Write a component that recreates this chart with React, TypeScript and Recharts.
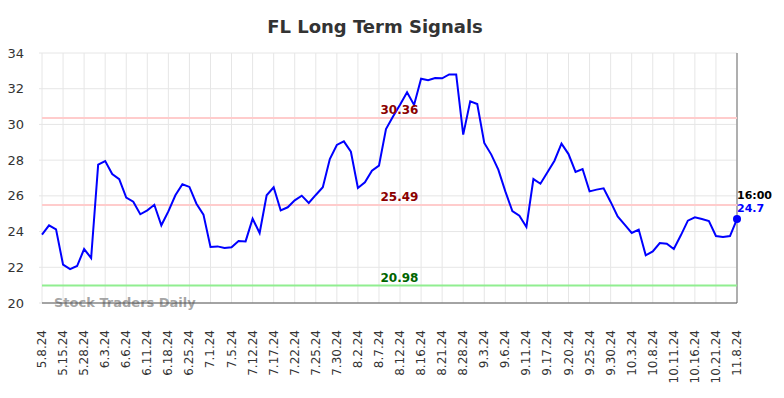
import React from 'react';
import {
  LineChart,
  Line,
  XAxis,
  YAxis,
  CartesianGrid,
  ReferenceLine,
  Customized,
} from 'recharts';

// tick labels, one every 3 data points
const tickLabels = [
  '5.8.24', '5.15.24', '5.28.24', '6.3.24', '6.6.24', '6.11.24', '6.18.24', '6.25.24',
  '7.1.24', '7.5.24', '7.12.24', '7.17.24', '7.22.24', '7.25.24', '7.30.24', '8.2.24',
  '8.7.24', '8.12.24', '8.16.24', '8.21.24', '8.28.24', '9.3.24', '9.6.24', '9.11.24',
  '9.17.24', '9.20.24', '9.25.24', '9.30.24', '10.3.24', '10.8.24', '10.11.24', '10.16.24',
  '10.21.24', '11.8.24',
];

// closing prices
const prices = [
  23.83, 24.35, 24.12, 22.15, 21.9, 22.07, 23.02, 22.52, 27.75, 27.95,
  27.22, 26.94, 25.9, 25.67, 24.97, 25.19, 25.5, 24.35, 25.13, 26.03,
  26.65, 26.5, 25.56, 24.95, 23.14, 23.17, 23.08, 23.12, 23.47, 23.45,
  24.72, 23.92, 26.03, 26.48, 25.19, 25.36, 25.75, 26.01, 25.6, 26.05,
  26.48, 28.06, 28.85, 29.05, 28.47, 26.44, 26.76, 27.41, 27.69, 29.74,
  30.45, 31.1, 31.8, 31.09, 32.56, 32.47, 32.6, 32.58, 32.8, 32.8,
  29.43, 31.29, 31.14, 28.96, 28.31, 27.47, 26.25, 25.15, 24.89, 24.26,
  26.94, 26.68, 27.32, 27.97, 28.92, 28.34, 27.34, 27.5, 26.25, 26.35,
  26.42, 25.66, 24.85, 24.39, 23.92, 24.11, 22.67, 22.89, 23.36, 23.32,
  23.02, 23.79, 24.61, 24.8, 24.7, 24.59, 23.75, 23.7, 23.75, 24.7,
];

const resistanceHigh = 30.36;
const resistanceLow = 25.49;
const support = 20.98;
const lastTime = '16:00';

const yTicks = [20, 22, 24, 26, 28, 30, 32, 34];
const tickIdx = tickLabels.map((_, k) => k * 3);

const data = prices.map((p, i) => ({ i, price: p }));

const FONT = '"DejaVu Sans", sans-serif';

const XTick = (props: any) => {
  const { x, y, payload } = props;
  return (
    <text
      x={x}
      y={y + 19}
      transform={`rotate(-90 ${x} ${y + 19})`}
      textAnchor="end"
      dominantBaseline="central"
      fontSize={12}
      fontFamily={FONT}
      fill="#333"
    >
      {tickLabels[payload.value / 3]}
    </text>
  );
};

const LastDot = (props: any) => {
  const { cx, cy, index } = props;
  if (index !== prices.length - 1) return null;
  return (
    <g>
      <circle cx={cx} cy={cy} r={4} fill="#0000ff" />
      <text x={cx} y={cy - 20} fontSize={11} fontWeight="bold" fontFamily={FONT} fill="#000">
        {lastTime}
      </text>
      <text x={cx} y={cy - 7} fontSize={11} fontWeight="bold" fontFamily={FONT} fill="#0000ff">
        {prices[prices.length - 1]}
      </text>
    </g>
  );
};

const Extras = () => (
  <g>
    <text x={375} y={33} textAnchor="middle" fontSize={18} fontWeight="bold" fontFamily={FONT} fill="#333">
      FL Long Term Signals
    </text>
    <text x={54} y={307} fontSize={13} fontWeight="bold" fontFamily={FONT} fill="#999" fillOpacity={0.9}>
      Stock Traders Daily
    </text>
    <line x1={737} y1={53} x2={737} y2={303} stroke="#999" strokeWidth={1.5} />
  </g>
);

const refLabel = (value: number, color: string) => ({
  value: value.toFixed(2),
  position: 'center' as const,
  dx: 10,
  dy: -8,
  fill: color,
  fontSize: 12,
  fontWeight: 'bold',
  fontFamily: FONT,
});

export default function App() {
  return (
    <div style={{ position: 'absolute', left: 0, top: 0, width: 784, height: 398, background: '#fff' }}>
      <LineChart width={784} height={398} data={data} margin={{ top: 53, right: 47, bottom: 0, left: 0 }}>
        <CartesianGrid stroke="#e6e6e6" strokeWidth={1} />
        <XAxis
          dataKey="i"
          type="number"
          domain={[0, prices.length - 1]}
          ticks={tickIdx}
          interval={0}
          height={95}
          tick={<XTick />}
          tickLine={false}
          axisLine={{ stroke: '#555', strokeWidth: 1 }}
        />
        <YAxis
          domain={[20, 34]}
          ticks={yTicks}
          width={42}
          tickSize={3}
          tickLine={{ stroke: '#e6e6e6' }}
          axisLine={false}
          tickMargin={15}
          tick={{ fontSize: 13, fill: '#333', fontFamily: FONT }}
        />
        <ReferenceLine y={resistanceHigh} stroke="#ffcccc" strokeWidth={2} />
        <ReferenceLine y={resistanceLow} stroke="#ffcccc" strokeWidth={2} />
        <ReferenceLine y={support} stroke="#90ee90" strokeWidth={2} />
        <Customized component={Extras} />
        <Line
          type="linear"
          dataKey="price"
          stroke="#0000ff"
          strokeWidth={2}
          dot={<LastDot />}
          activeDot={false}
          isAnimationActive={false}
        />
        <ReferenceLine y={resistanceHigh} stroke="none" label={refLabel(resistanceHigh, '#8b0000')} />
        <ReferenceLine y={resistanceLow} stroke="none" label={refLabel(resistanceLow, '#8b0000')} />
        <ReferenceLine y={support} stroke="none" label={refLabel(support, '#006400')} />
      </LineChart>
    </div>
  );
}
